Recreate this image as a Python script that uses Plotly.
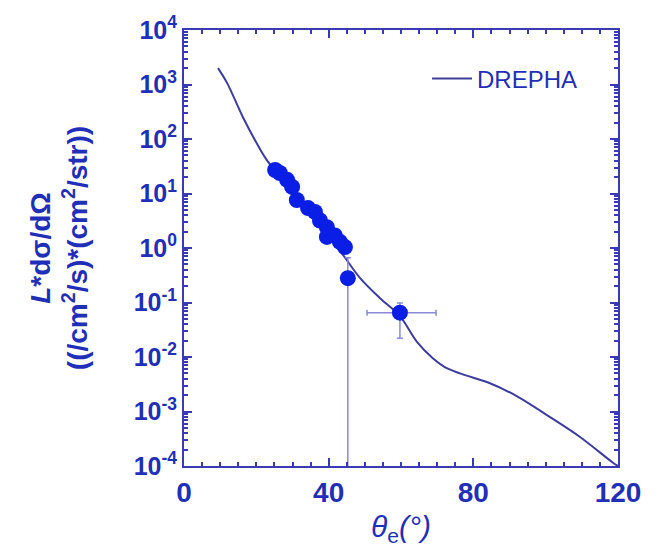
import plotly.graph_objects as go

# DREPHA curve
curve_theta = [9.4, 11.9, 16.3, 19.6, 22.9, 30.0, 40.0, 44.0, 48.7, 54.2, 59.7, 64.4,
               68.8, 72.0, 76.3, 84.6, 92.1, 101.2, 109.5, 118.6, 120.0]
curve_val = [2000, 1070, 250, 96, 41, 11.2, 1.6, 0.74, 0.28, 0.12, 0.056, 0.019,
             0.0095, 0.0066, 0.0050, 0.0033, 0.0019, 0.00079, 0.00034, 0.000115, 0.0001]

# measured points
pt_theta = [25.2, 26.5, 28.5, 29.9, 31.2, 34.3, 36.2, 37.6, 39.5, 39.5, 41.7, 43.1, 44.5, 45.3, 59.7]
pt_val = [27, 23.8, 17.8, 13.2, 7.6, 5.4, 4.6, 3.2, 2.4, 1.6, 1.7, 1.3, 1.04, 0.28, 0.065]
pt_yerr_plus = [0, 0, 0, 0, 0, 0, 0, 0, 0, 0, 0, 0, 0, 0.38, 0.033]
pt_yerr_minus = [0, 0, 0, 0, 0, 0, 0, 0, 0, 0, 0, 0, 0, 0.279999, 0.043]
pt_xerr_plus = [0, 0, 0, 0, 0, 0, 0, 0, 0, 0, 0, 0, 0, 0, 10.0]
pt_xerr_minus = [0, 0, 0, 0, 0, 0, 0, 0, 0, 0, 0, 0, 0, 0, 9.1]

ytick_vals = [1e-4, 1e-3, 1e-2, 1e-1, 1, 10, 100, 1000, 10000]
ytick_text = ["10<sup>-4</sup>", "10<sup>-3</sup>", "10<sup>-2</sup>", "10<sup>-1</sup>",
              "10<sup>0</sup>", "10<sup>1</sup>", "10<sup>2</sup>", "10<sup>3</sup>", "10<sup>4</sup>"]

TXT = "#1f2fb8"
FRAME = "#3a3ab4"
FONT = "Liberation Sans"

minor_y = []
for e in range(-4, 4):
    for m in range(2, 10):
        minor_y.append(m * 10 ** e)

fig = go.Figure()
fig.add_trace(go.Scatter(
    x=curve_theta, y=curve_val, mode="lines", name="DREPHA",
    line=dict(color="#3d3d9e", width=2, shape="spline", smoothing=1.0),
))
fig.add_trace(go.Scatter(
    x=pt_theta, y=pt_val, mode="markers", showlegend=False,
    marker=dict(color="#0a1ee6", size=16, line=dict(width=0)),
    error_y=dict(type="data", symmetric=False, array=pt_yerr_plus, arrayminus=pt_yerr_minus,
                 color="#8a8ad6", thickness=1.5, width=3),
    error_x=dict(type="data", symmetric=False, array=pt_xerr_plus, arrayminus=pt_xerr_minus,
                 color="#8a8ad6", thickness=1.5, width=3),
))

fig.update_layout(
    width=667, height=560,
    margin=dict(l=184, r=49, t=30, b=94),
    paper_bgcolor="white", plot_bgcolor="white",
    font=dict(family=FONT, color=TXT),
    legend=dict(x=0.56, y=0.888, xanchor="left", yanchor="middle", itemwidth=40,
                bgcolor="rgba(0,0,0,0)", font=dict(size=24, color=TXT, family=FONT)),
)
fig.update_xaxes(
    range=[0, 120], tickvals=[0, 40, 80, 120], ticks="inside", ticklen=8, tickwidth=1.5,
    tickcolor=FRAME, showline=True, linecolor=FRAME, linewidth=2, mirror="ticks",
    showgrid=False, zeroline=False,
    tickfont=dict(size=28, weight="bold", color=TXT, family=FONT),
    minor=dict(dtick=5, ticks="inside", ticklen=4, tickcolor=FRAME, showgrid=False),
    title=dict(text="<i>θ</i><sub>e</sub><i>(°)</i>", font=dict(size=30, color=TXT, family=FONT),
               standoff=9),
)
fig.update_yaxes(
    type="log", range=[-4, 4], tickvals=ytick_vals, ticktext=ytick_text,
    ticks="inside", ticklen=8, tickwidth=1.5, tickcolor=FRAME,
    showline=True, linecolor=FRAME, linewidth=2, mirror="ticks",
    showgrid=False, zeroline=False,
    tickfont=dict(size=25, weight="bold", color=TXT, family=FONT),
    minor=dict(tickvals=minor_y, ticks="inside", ticklen=4, tickcolor=FRAME, showgrid=False),
    title=dict(text="<i>L</i>*dσ/dΩ<br>((/cm<sup>2</sup>/s)*(cm<sup>2</sup>/str))",
               font=dict(size=28, weight="bold", color=TXT, family=FONT), standoff=38),
)

fig.write_html("out.html")
